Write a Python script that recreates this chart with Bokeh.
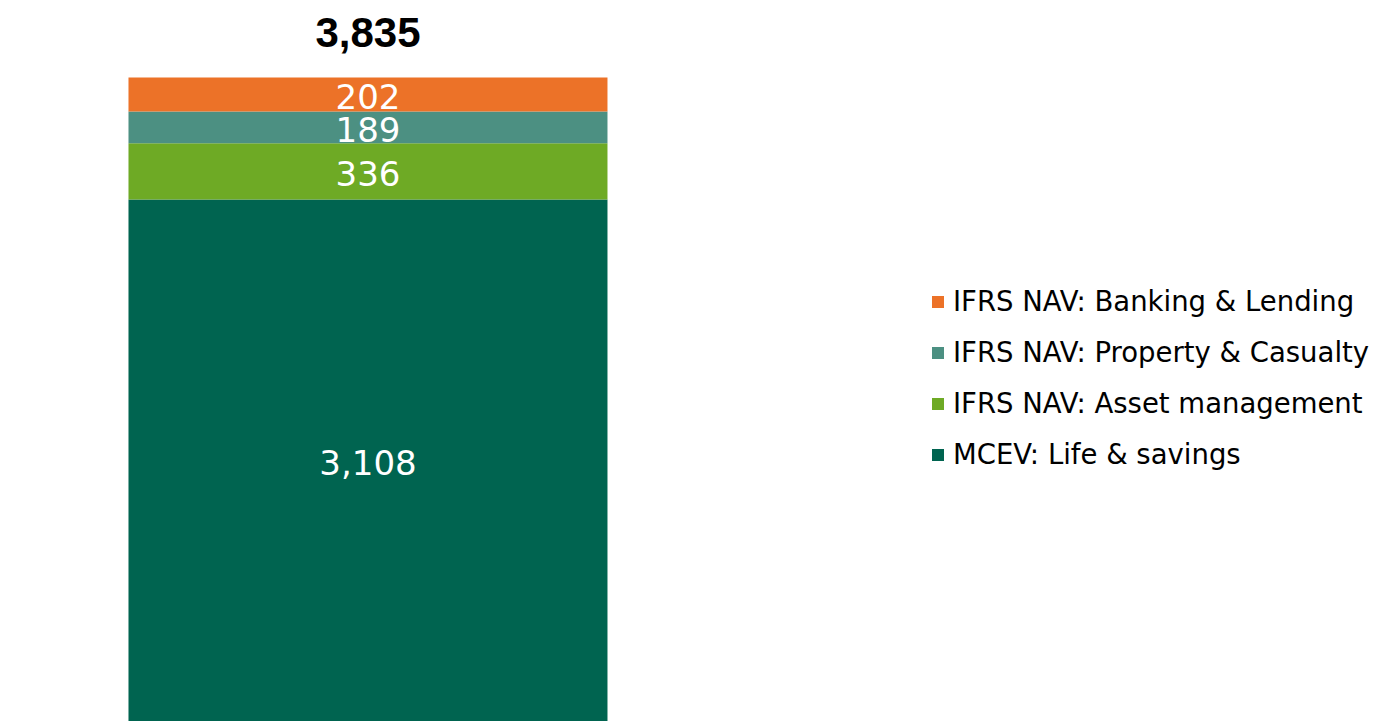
from bokeh.plotting import figure
from bokeh.models import Range1d, Legend, LegendItem, ColumnDataSource
from bokeh.core.properties import value
from bokeh.embed import file_html
from bokeh.resources import INLINE

# Data
series = ["MCEV: Life & savings", "IFRS NAV: Asset management",
          "IFRS NAV: Property & Casualty", "IFRS NAV: Banking & Lending"]
values = [3108, 336, 189, 202]
colors = ["#006450", "#6EAA25", "#4C9082", "#EC7228"]
total = 3835

W, H = 1383, 721
p = figure(width=W, height=H, output_backend="svg", toolbar_location=None,
           x_range=Range1d(-0.7672, 2.1201), y_range=Range1d(0, 4293.5),
           min_border=0, outline_line_color=None)
p.axis.visible = False
p.grid.visible = False
p.background_fill_color = "white"
p.border_fill_color = "white"

bottoms = []
acc = 0
for v in values:
    bottoms.append(acc)
    acc += v
tops = [b + v for b, v in zip(bottoms, values)]
mids = [(b + t) / 2 for b, t in zip(bottoms, tops)]

renderers = []
for i in range(len(values)):
    r = p.vbar(x=[0], bottom=[bottoms[i]], top=[tops[i]], width=1.0,
               fill_color=colors[i], line_color=None)
    renderers.append(r)

lab = ColumnDataSource(dict(x=[0] * len(values), y=mids,
                            t=["{:,}".format(v) for v in values]))
p.text(x="x", y="y", text="t", source=lab, text_color="white",
       text_font=value("DejaVu Sans"), text_font_size="34px",
       text_align="center", text_baseline="middle",
       text_font_style="normal", y_offset=2)

p.text(x=[0], y=[total], text=["{:,}".format(total)], text_color="black",
       text_font=value("Liberation Sans"), text_font_size="42px",
       text_font_style="bold", text_align="center",
       text_baseline="alphabetic", y_offset=-45)

items = [LegendItem(label=series[i], renderers=[renderers[i]])
         for i in reversed(range(len(values)))]
legend = Legend(items=items, location=(930, 251), orientation="vertical",
                padding=0, margin=0, border_line_color=None,
                background_fill_alpha=0, glyph_width=15, glyph_height=15,
                label_height=30, spacing=19, label_standoff=8,
                label_text_font="DejaVu Sans", label_text_font_size="27.5px",
                label_text_color="black")
p.add_layout(legend, "center")

open("out.html", "w").write(file_html(p, INLINE))
